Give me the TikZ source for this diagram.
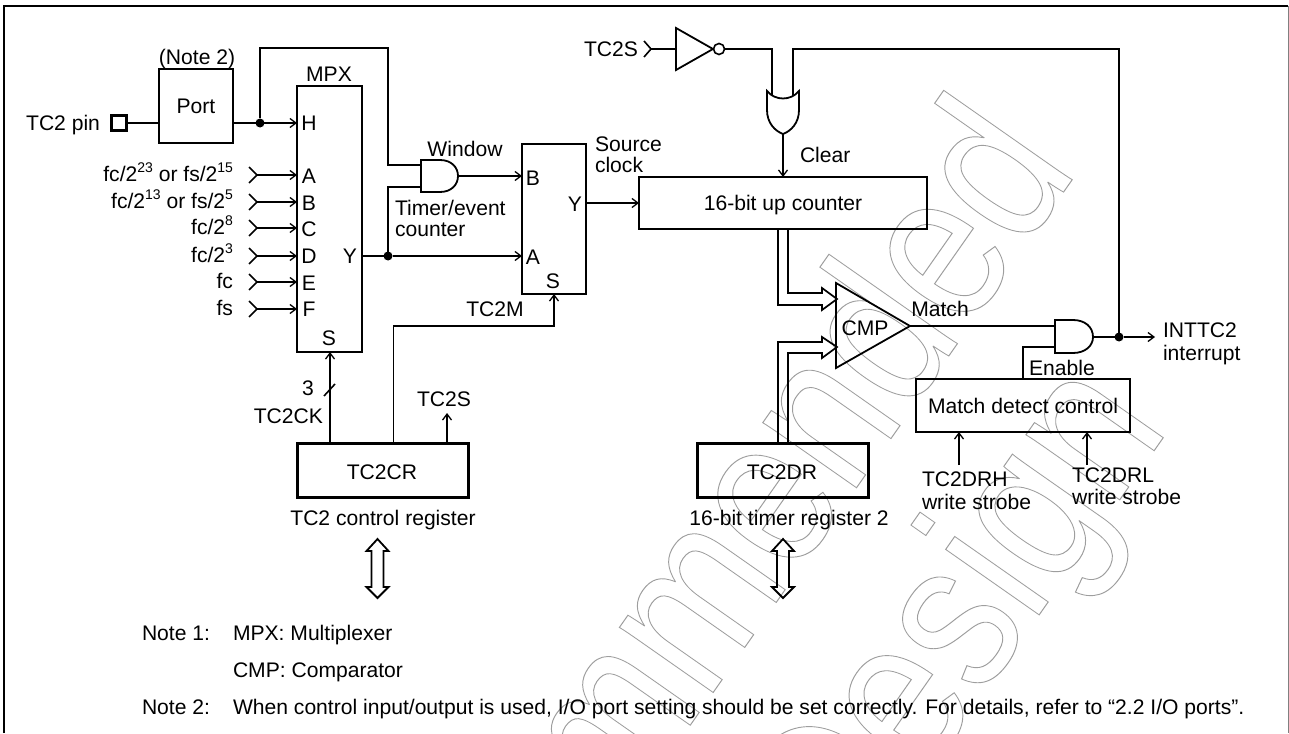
\documentclass[tikz,border=0pt]{standalone}
\usepackage{fontspec}
\setmainfont{Liberation Sans}
\usetikzlibrary{arrows.meta}
\newcommand\sups[1]{\raisebox{.42em}{\fontsize{14}{14}\selectfont #1}}
\newcommand\wmtext[1]{\special{pdf:code 1 Tr 0.62 0.62 0.62 RG 1 w}#1\special{pdf:code 0 Tr}}
\tikzset{
  x=1pt,y=-1pt,
  >={Straight Barb[length=6pt,width=9pt,line width=1.3pt]},
  wire/.style={line width=1.7pt,line join=miter},
  box/.style={draw,line width=1.7pt,inner sep=0pt,outer sep=0pt},
  regbox/.style={draw,line width=3pt,inner sep=0pt,outer sep=0pt},
  lbl/.style={inner sep=0pt,outer sep=0pt,font=\fontsize{21.1}{21}\selectfont,text height=15pt,text depth=0pt},
  lw/.style={lbl,anchor=west},
  le/.style={lbl,anchor=east},
  dot/.style={circle,fill=black,inner sep=0pt,outer sep=0pt,minimum size=9pt},
  gate/.style={line width=1.8pt},
  chev/.style={line width=1.6pt},
  wmark/.style={inner sep=0pt,outer sep=0pt,anchor=base east,rotate=55,xscale=.833,font=\fontsize{216}{216}\selectfont},
}
\begin{document}
\begin{tikzpicture}
\useasboundingbox (0,0) rectangle (1289,733);
% watermark
\begin{scope}
\clip (0,0) rectangle (1289,733);
\node[wmark] (wm1) at (1079,170) {\wmtext{Recommended}};
\node[wmark] (wm2) at (1170,428) {\wmtext{Design}};
\end{scope}
% frame
\coordinate (fbl) at (4,733); \coordinate (ftl) at (4,6); \coordinate (ftr) at (1288,6); \coordinate (fbr) at (1288,733);
\draw[line width=2.4pt] (fbl) -- (ftl) -- (ftr);
\draw[line width=.7pt,black!50] (ftr) -- (fbr);
% boxes
\node[box,minimum width=74pt,minimum height=74pt] (port) at (196,106) {};
\node[lbl] (portt) at (196,106) {Port};
\node[lbl] (note2t) at (197,57) {(Note 2)};
\node[box,line width=2.4pt,minimum width=15pt,minimum height=15pt] (pin) at (119,123) {};
\node[le] (pint) at (100,123) {TC2 pin};
\node[box,minimum width=65pt,minimum height=266pt] (mpx) at (329.5,219) {};
\node[lbl] (mpxt) at (329,74) {MPX};
\node[box,minimum width=64pt,minimum height=150pt] (mux) at (554,219) {};
\node[box,minimum width=288pt,minimum height=52pt] (cnt) at (783,203) {};
\node[lbl] (cntt) at (783,203) {16-bit up counter};
\node[regbox,minimum width=171pt,minimum height=54pt] (cr) at (382.5,470) {};
\node[lbl] (crt) at (382,472) {TC2CR};
\node[regbox,minimum width=171pt,minimum height=54pt] (dr) at (782.5,470) {};
\node[lbl] (drt) at (782,472) {TC2DR};
\node[box,minimum width=214pt,minimum height=53pt] (mdc) at (1023,405.5) {};
\node[lbl] (mdct) at (1023,406) {Match detect control};
% mpx letters
\foreach \n/\yy in {H/123,A/176,B/203,C/229,D/256,E/283,F/309}{
  \node[lbl] (mpx\n t) at (309,\yy) {\n};
}
\node[lbl] (mpxS) at (329,338) {S};
\node[lbl] (mpxY) at (350,256) {Y};
\node[lbl] (muxB) at (533,178) {B};
\node[lbl] (muxA) at (533,257) {A};
\node[lbl] (muxY) at (575,204) {Y};
\node[lbl] (muxS) at (553,281) {S};
% input labels and chevrons
\node[le] (inAt) at (233,174) {fc/2\sups{23} or fs/2\sups{15}};
\node[le] (inBt) at (233,201) {fc/2\sups{13} or fs/2\sups{5}};
\node[le] (inCt) at (233,227) {fc/2\sups{8}};
\node[le] (inDt) at (233,255) {fc/2\sups{3}};
\node[le] (inEt) at (233,281) {fc};
\node[le] (inFt) at (233,308) {fs};
\foreach \n/\yy in {A/175,B/202,C/228,D/256,E/282,F/309}{
  \coordinate (ch\n) at (257,\yy);
  \coordinate (mi\n) at (297,\yy);
  \draw[chev] (249,\yy-8) -- (ch\n) -- (249,\yy+8);
  \draw[wire,->] (ch\n) -- (mi\n);
}
% H input
\coordinate (portR) at (233,123); \coordinate (pinR) at (126.5,123); \coordinate (portL) at (159,123); \coordinate (miH) at (297,123);
\coordinate (j1) at (260,123); \coordinate (c1) at (260,48); \coordinate (c2) at (388,48); \coordinate (c3) at (388,165);
\draw[wire] (pinR) -- (portL);
\draw[wire,->] (portR) -- (miH);
\node[dot] (dj1) at (j1) {};
\coordinate (a1a) at (421,165); \coordinate (a1b) at (421,187); \coordinate (a1o) at (458,176);
\draw[wire] (dj1) -- (c1) -- (c2) -- (c3) -- (a1a);
% AND gate 1
\draw[gate] (421,160) -- (440,160) .. controls (451,160) and (458,167) .. (458,176) .. controls (458,185) and (451,192) .. (440,192) -- (421,192) -- cycle;
\coordinate (muxBi) at (522,176); \coordinate (muxAi) at (522,256); \coordinate (mpxYo) at (362,256);
\draw[wire,->] (a1o) -- (muxBi);
\node[dot] (dj2) at (388,256) {};
\draw[wire] (mpxYo) -- (dj2);
\draw[wire,->] (dj2) -- (muxAi);
\coordinate (c4) at (388,187);
\draw[wire] (dj2) -- (c4) -- (a1b);
\node[lbl] (wint) at (465,149) {Window};
\node[lw] (te1) at (395,208) {Timer/event};
\node[lw] (te2) at (395,229) {counter};
\node[lw] (sc1) at (595,144) {Source};
\node[lw] (sc2) at (595,165) {clock};
\coordinate (muxYo) at (586,203); \coordinate (cntL) at (639,203);
\draw[wire,->] (muxYo) -- (cntL);
% TC2S inverter and OR
\node[le] (tst) at (638,49) {TC2S};
\coordinate (tsc) at (651,49); \coordinate (invI) at (676,49);
\draw[chev] (644,41) -- (tsc) -- (644,57);
\draw[wire] (tsc) -- (invI);
\draw[gate] (676,28) -- (713,49) -- (676,70) -- cycle;
\node[circle,draw,line width=1.6pt,inner sep=0pt,outer sep=0pt,minimum size=11pt] (bub) at (719,49) {};
\coordinate (oa) at (772,96); \coordinate (oac) at (772,49);
\coordinate (ob) at (793,96); \coordinate (obc) at (793,49); \coordinate (rt) at (1119,49);
\draw[wire] (bub.east) -- (oac) -- (oa);
\draw[gate] (767,91) .. controls (775,101) and (791,101) .. (799,91) -- (799,110) .. controls (799,123) and (791,131) .. (783,134) .. controls (775,131) and (767,123) .. (767,110) -- cycle;
\coordinate (oo) at (783,134); \coordinate (cntT) at (783,177);
\draw[wire,->] (oo) -- (cntT);
\node[lw] (clrt) at (800,155) {Clear};
% buses
\coordinate (cntA) at (778,229); \coordinate (cntB) at (788,229);
\coordinate (drA) at (778,443); \coordinate (drB) at (788,443);
\draw[wire] (cntA) -- (778,305) -- (822,305) -- (822,310) -- (837,299) -- (822,288) -- (822,293) -- (788,293) -- (cntB);
\draw[wire] (drA) -- (778,342) -- (822,342) -- (822,337) -- (837,347) -- (822,358) -- (822,353) -- (788,353) -- (drB);
% CMP
\draw[gate] (836,283) -- (910,326) -- (836,368) -- cycle;
\node[lbl] (cmpt) at (865,328) {CMP};
\node[lbl] (matcht) at (940,309) {Match};
\coordinate (cmpo) at (910,326); \coordinate (a2a) at (1055,326); \coordinate (a2b) at (1055,347); \coordinate (a2o) at (1093,337);
\draw[wire] (cmpo) -- (a2a);
\draw[gate] (1055,320) -- (1073,320) .. controls (1085,320) and (1093,327) .. (1093,337) .. controls (1093,346) and (1085,353) .. (1073,353) -- (1055,353) -- cycle;
\coordinate (mdcT) at (1023,379);
\draw[wire] (mdcT) -- (1023,347) -- (a2b);
\node[lbl] (ent) at (1062,368) {Enable};
\node[dot] (dj3) at (1119,337) {};
\coordinate (intr) at (1155,337);
\draw[wire] (a2o) -- (dj3);
\draw[wire,->] (dj3) -- (intr);
\draw[wire] (dj3) -- (rt) -- (obc) -- (ob);
\node[lw] (intt1) at (1163,330) {INTTC2};
\node[lw] (intt2) at (1163,353) {interrupt};
% TC2M
\coordinate (crm) at (393.5,443); \coordinate (muxS0) at (554,294);
\node[lbl] (tmt) at (495,309) {TC2M};
\draw[wire,->] (crm) -- (393.5,326) -- (554,326) -- (muxS0);
% TC2CK
\coordinate (crk) at (330,443); \coordinate (mpxS0) at (330,352);
\draw[wire,->] (crk) -- (mpxS0);
\coordinate (sl1) at (324,396); \coordinate (sl2) at (335,384);
\draw[chev] (sl1) -- (sl2);
\node[lbl] (n3t) at (308,388) {3};
\node[le] (ckt) at (323,416) {TC2CK};
\coordinate (crs) at (447,443); \coordinate (tso) at (447,413);
\draw[wire,->] (crs) -- (tso);
\node[lbl] (ts2t) at (444,399) {TC2S};
\node[lbl] (crl) at (383,518) {TC2 control register};
\node[lbl] (drl) at (789,518) {16-bit timer register 2};
% double arrows
\foreach \cx in {377.5,783}{
  \draw[gate] (\cx,539) -- (\cx+11,551) -- (\cx+6,551) -- (\cx+6,587) -- (\cx+11,587) -- (\cx,598) -- (\cx-11,587) -- (\cx-6,587) -- (\cx-6,551) -- (\cx-11,551) -- cycle;
}
% strobes
\coordinate (s1) at (959,465); \coordinate (s1t) at (959,432);
\coordinate (s2) at (1087,465); \coordinate (s2t) at (1087,432);
\draw[wire,->] (s1) -- (s1t);
\draw[wire,->] (s2) -- (s2t);
\node[lw] (h1) at (922,479) {TC2DRH};
\node[lw] (h2) at (922,502) {write strobe};
\node[lw] (l1) at (1072,475) {TC2DRL};
\node[lw] (l2) at (1072,497) {write strobe};
% notes
\node[lw] (no1) at (142,633) {Note 1:};
\node[lw] (no1a) at (233,633) {MPX: Multiplexer};
\node[lw] (no1b) at (233,670) {CMP: Comparator};
\node[lw] (no2) at (142,707) {Note 2:};
\node[lw] (no2a) at (233,707) {When control input/output is used, I/O port setting should be set correctly. For details, refer to “2.2 I/O ports”.};
\end{tikzpicture}
\end{document}
